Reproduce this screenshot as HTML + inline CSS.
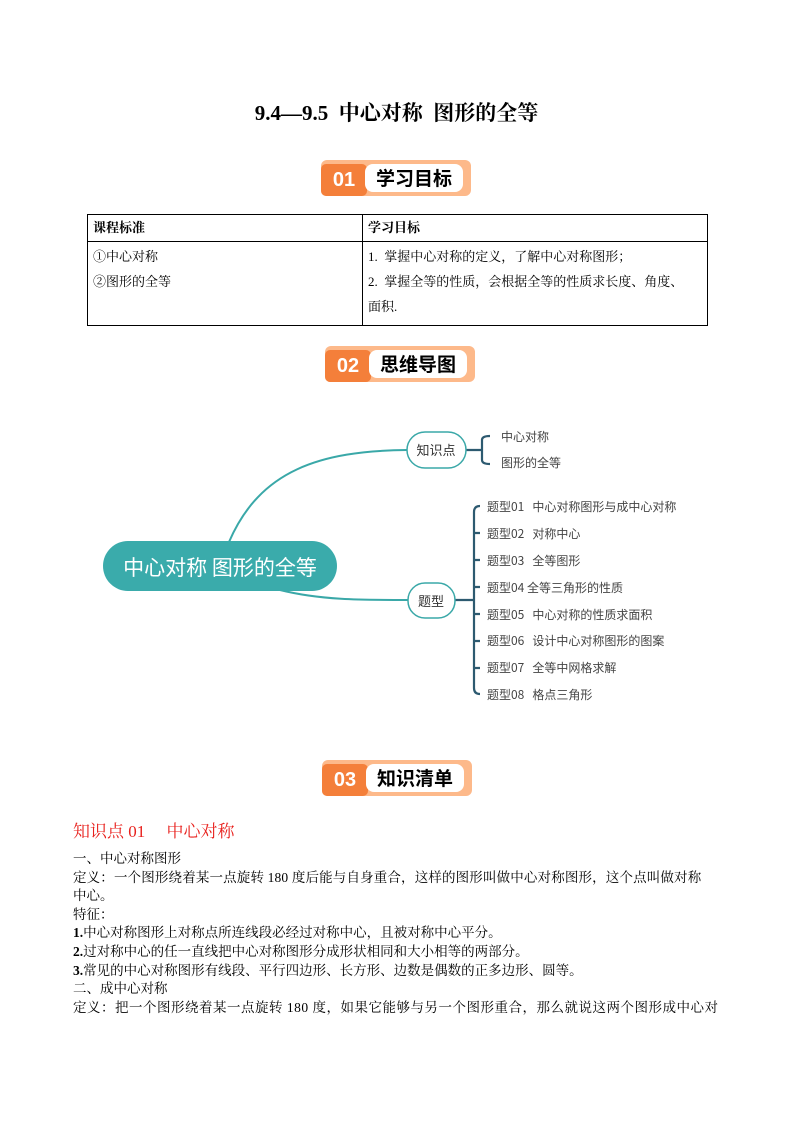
<!DOCTYPE html>
<html><head><meta charset="utf-8"><style>
body{margin:0;background:#fff;}
.p{position:relative;width:793px;height:1122px;font-family:"Liberation Serif","Noto Serif CJK SC",serif;color:#000;}
.a{position:absolute;white-space:nowrap;}
.badge{position:absolute;height:36px;}
.badge .o{position:absolute;left:0;top:0;width:150px;height:36px;background:#fdb98a;border-radius:6px;}
.badge .n{position:absolute;left:0;top:4px;width:46px;height:32px;background:#f47f3a;border-radius:5px;color:#fff;font:bold 20px "Liberation Sans",sans-serif;text-align:center;line-height:32px;}
.badge .w{position:absolute;left:44px;top:4px;width:98px;height:28px;background:#fff;border-radius:8px;font:bold 19px "Noto Sans CJK SC",sans-serif;line-height:28px;text-align:center;}
table{position:absolute;left:87px;top:214px;width:621px;border-collapse:collapse;font-size:13px;}
td{border:1px solid #000;vertical-align:top;padding:0 5px;line-height:25px;}
.t{font-family:"Liberation Serif","Noto Serif CJK SC",serif;font-size:13.5px;line-height:18.6px;}
svg text{white-space:pre;}
</style></head><body><div class="p">
<div class="a" style="left:0;width:793px;text-align:center;top:97px;font-weight:bold;font-size:21px;">9.4—9.5&nbsp; 中心对称&nbsp; 图形的全等</div>

<div class="badge" style="left:321px;top:160px;"><div class="o"></div><div class="n">01</div><div class="w">学习目标</div></div>
<table><tr><td style="width:264px;font-weight:bold;height:26px;">课程标准</td><td style="font-weight:bold;">学习目标</td></tr>
<tr><td style="height:81px;padding-top:2px;">①中心对称<br>②图形的全等</td><td style="padding-top:2px;">1.&nbsp; 掌握中心对称的定义，了解中心对称图形；<br>2.&nbsp; 掌握全等的性质，会根据全等的性质求长度、角度、<br>面积.</td></tr></table>

<div class="badge" style="left:325px;top:346px;"><div class="o"></div><div class="n">02</div><div class="w">思维导图</div></div>

<svg class="a" style="left:0;top:0" width="793" height="1122">
<g fill="none" stroke="#3aa8a8" stroke-width="2">
<path d="M229 542 C260 470 320 451 407 450"/>
<path d="M280 590 C320 600 360 600 408 600"/>
</g>
<g fill="none" stroke="#2d5a70" stroke-width="2.2">
<path d="M466 450 H482 M482 440 V460 M482 440 Q482 436 490 436 M482 460 Q482 464 490 464"/>
<path d="M455 600 H474 M474 512 V688 M474 512 Q474 506 480 506 M474 688 Q474 694 480 694"/>
<path d="M474 533 h6 M474 560 h6 M474 587 h6 M474 614 h6 M474 641 h6 M474 668 h6"/>
</g>
<rect x="103" y="541" width="234" height="50" rx="25" fill="#3aabab"/>
<text x="220" y="575" fill="#fff" font-size="21" text-anchor="middle" font-family="Noto Sans CJK SC,sans-serif">中心对称 图形的全等</text>
<rect x="407" y="432" width="59" height="36" rx="18" fill="#fff" stroke="#3aa8a8" stroke-width="1.5"/>
<text x="436" y="455" font-size="13" text-anchor="middle" fill="#333" font-family="Noto Sans CJK SC,sans-serif">知识点</text>
<rect x="408" y="583" width="47" height="35" rx="17" fill="#fff" stroke="#3aa8a8" stroke-width="1.5"/>
<text x="431" y="606" font-size="13" text-anchor="middle" fill="#333" font-family="Noto Sans CJK SC,sans-serif">题型</text>
<g font-size="12" fill="#444" font-family="Noto Sans CJK SC,sans-serif">
<text x="501" y="441">中心对称</text>
<text x="501" y="467">图形的全等</text>
<text x="487" y="511">题型01   中心对称图形与成中心对称</text>
<text x="487" y="538">题型02   对称中心</text>
<text x="487" y="565">题型03   全等图形</text>
<text x="487" y="592">题型04 全等三角形的性质</text>
<text x="487" y="619">题型05   中心对称的性质求面积</text>
<text x="487" y="645">题型06   设计中心对称图形的图案</text>
<text x="487" y="672">题型07   全等中网格求解</text>
<text x="487" y="699">题型08   格点三角形</text>
</g>
</svg>

<div class="badge" style="left:322px;top:760px;"><div class="o"></div><div class="n">03</div><div class="w">知识清单</div></div>

<div class="a" style="left:73px;top:817px;color:#e8201c;font-size:17px;">知识点 01&nbsp;&nbsp;&nbsp;&nbsp; 中心对称</div>
<div class="a t" style="left:73px;top:850px;white-space:normal;width:652px;">一、中心对称图形<br><span style="letter-spacing:0.15px">定义：一个图形绕着某一点旋转 180 度后能与自身重合，这样的图形叫做中心对称图形，这个点叫做对称</span><br>中心。<br>特征：<br><b>1.</b>中心对称图形上对称点所连线段必经过对称中心，且被对称中心平分。<br><b>2.</b>过对称中心的任一直线把中心对称图形分成形状相同和大小相等的两部分。<br><b>3.</b>常见的中心对称图形有线段、平行四边形、长方形、边数是偶数的正多边形、圆等。<br>二、成中心对称<br><span style="letter-spacing:0.5px">定义：把一个图形绕着某一点旋转 180 度，如果它能够与另一个图形重合，那么就说这两个图形成中心对</span></div>
</div></body></html>
